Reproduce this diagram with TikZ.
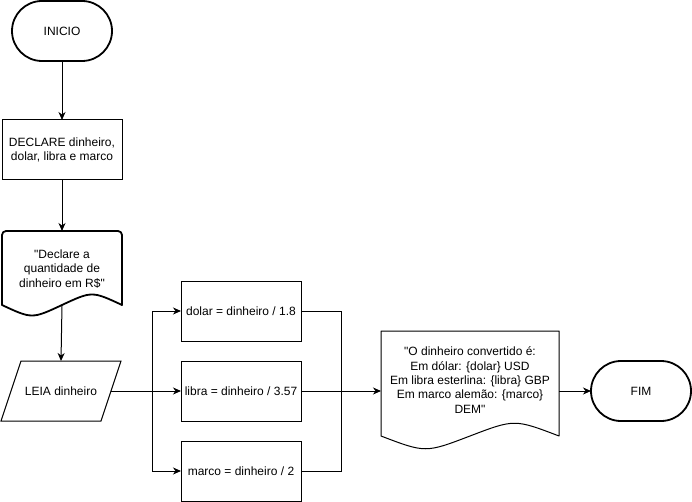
\documentclass[tikz,border=0pt]{standalone}
\usepackage{fontspec}
\setmainfont{Liberation Sans}
% same family without the TeX ligature mapping, for straight double quotes
\newfontfamily\quotefont{Liberation Sans}
\usetikzlibrary{shapes.misc,arrows.meta,calc}
\newcommand{\straightquote}{{\quotefont\symbol{34}}}
\begin{document}
\begin{tikzpicture}[x=1pt,y=-1pt,
  every node/.style={font=\fontsize{12}{14.4}\selectfont, align=center, inner sep=0pt, outer sep=0pt},
  terminal/.style={rounded rectangle, draw, line width=1.8pt, minimum width=100pt, minimum height=60pt},
  procbox/.style={rectangle, draw, line width=1pt, minimum width=120pt, minimum height=60pt},
  area/.style={rectangle, minimum width=#1},
  thinline/.style={line width=1pt},
  thickline/.style={line width=1.8pt, line cap=round, line join=round},
  flow/.style={draw, line width=1pt, -{Stealth[length=8pt,width=7pt,inset=2.5pt]}},
  wire/.style={draw, line width=1pt}
]
\useasboundingbox (0,0) rectangle (692,502);

% start terminal and declaration
\node[terminal] (inicio) at (62,31) {INICIO};
\node[procbox] (declare) at (62,150) {DECLARE dinheiro,\\dolar, libra e marco};

% prompt document (thick border, rounded top corners, wavy bottom)
\node[area=120pt, minimum height=80pt] (doc1) at (62,271) {};
\node (doc1txt) at (62,269) {\straightquote Declare a\\quantidade de\\dinheiro em R\$\straightquote};
\draw[thickline, rounded corners=4pt] ($(doc1.south west)+(0,-6)$) -- (doc1.north west) -- (doc1.north east) -- ($(doc1.south east)+(0,-6)$);
\draw[thickline] ($(doc1.south east)+(0,-6)$)
  .. controls ($(doc1.south)+(30,-20)$) .. ($(doc1.south)+(0,-6)$)
  .. controls ($(doc1.south)+(-30,8)$) .. ($(doc1.south west)+(0,-6)$);
\coordinate (doc1out) at ($(doc1.south)+(0,-6)$);

% input parallelogram
\node[area=120pt, minimum height=60pt] (leia) at (61,391) {LEIA dinheiro};
\draw[thinline] ($(leia.north west)+(20,0)$) -- (leia.north east) -- ($(leia.south east)+(-20,0)$) -- (leia.south west) -- cycle;
\coordinate (leiaout) at ($(leia.east)+(-10,0)$);

% conversions
\node[procbox] (dolar) at (241,311) {dolar = dinheiro / 1.8};
\node[procbox] (libra) at (241,391) {libra = dinheiro / 3.57};
\node[procbox] (marco) at (241,471) {marco = dinheiro / 2};

% output document
\node[area=178pt, minimum height=120pt] (doc2) at (470,391) {};
\node (doc2txt) at (470,380) {\straightquote O dinheiro convertido é:\\Em dólar: \{dolar\} USD\\Em libra esterlina: \{libra\} GBP\\Em marco alemão: \{marco\}\\DEM\straightquote};
\draw[thinline, line join=round] (doc2.north west) -- (doc2.north east) -- ($(doc2.south east)+(0,-15)$)
  .. controls ($(doc2.south)+(44.5,-32)$) .. ($(doc2.south)+(0,-15)$)
  .. controls ($(doc2.south)+(-44.5,2)$) .. ($(doc2.south west)+(0,-15)$) -- cycle;

% end terminal
\node[terminal] (fim) at (641,391) {FIM};

% connectors
\coordinate (splitL) at (152,391);
\coordinate (mergeR) at (341,391);
\draw[flow] (inicio) -- (declare);
\draw[flow] (declare) -- (doc1.north);
\draw[flow] (doc1out) -- (leia.north);
\draw[flow] (leiaout) -- (libra.west);
\draw[flow] (splitL) |- (dolar.west);
\draw[flow] (splitL) |- (marco.west);
\draw[wire] (dolar.east) -| (mergeR);
\draw[wire] (marco.east) -| (mergeR);
\draw[flow] (libra.east) -- (doc2.west);
\draw[flow] (doc2.east) -- (fim.west);
\end{tikzpicture}
\end{document}
